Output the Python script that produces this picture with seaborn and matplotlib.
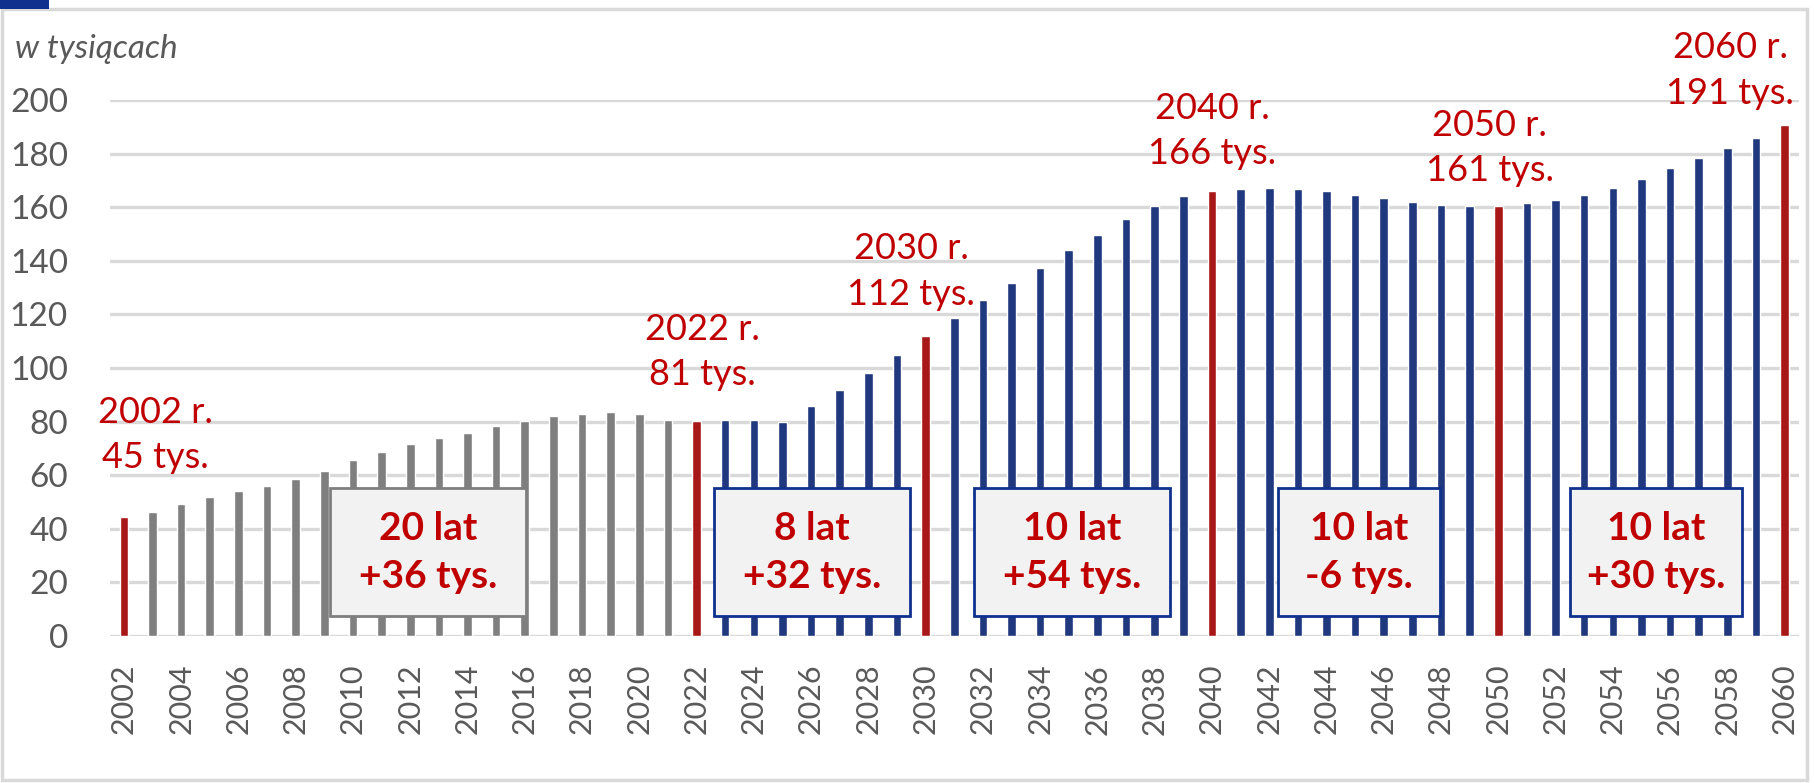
import numpy as np
import pandas as pd
import matplotlib
matplotlib.use("Agg")
import matplotlib.pyplot as plt
from matplotlib.patches import Rectangle
import seaborn as sns

# values (thousands)
years = list(range(2002, 2061))
values = [
    44.5, 46.4, 49.1, 51.8, 54.0, 56.1, 58.7, 61.4, 65.6, 68.8,
    71.6, 73.7, 75.8, 78.4, 80.1, 82.2, 82.7, 83.7, 82.7, 80.5,
    80.3, 80.5, 80.5, 80.0, 85.8, 91.7, 98.0, 104.9, 111.9, 118.8,
    125.3, 131.7, 137.4, 143.9, 149.7, 155.5, 160.4, 164.1, 166.2, 166.7,
    167.3, 166.7, 166.2, 164.6, 163.5, 162.0, 161.0, 160.4, 160.4, 161.5,
    162.5, 164.6, 167.3, 170.4, 174.8, 178.5, 182.2, 185.9, 190.6,
]
highlight_years = [2002, 2022, 2030, 2040, 2050, 2060]
last_observed_year = 2021

label_texts = ["2002 r.\n45 tys.", "2022 r.\n81 tys.", "2030 r.\n112 tys.",
               "2040 r.\n166 tys.", "2050 r.\n161 tys.", "2060 r.\n191 tys."]
label_heights = [75, 106, 136, 188.5, 182, 211]
label_shift = [1.1, 0.2, -0.5, 0.0, -0.3, -1.9]

box_texts = ["20 lat\n+36 tys.", "8 lat\n+32 tys.", "10 lat\n+54 tys.",
             "10 lat\n-6 tys.", "10 lat\n+30 tys."]
box_spans = [(7.2, 14.05), (20.6, 27.45), (29.7, 36.55), (40.3, 45.95), (50.5, 56.5)]
box_edges = ["#7F7F7F", "#10318E", "#10318E", "#10318E", "#10318E"]

RED = "#C00000"
GRAY = "#7F7F7F"
BLUE = "#10318E"
TXT = "#595959"

df = pd.DataFrame({"year": years, "value": values})
df["group"] = np.where(df["year"].isin(highlight_years), "key",
                       np.where(df["year"] <= last_observed_year, "past", "proj"))

sns.set_style("white")
plt.rcParams["font.family"] = ["Lato", "DejaVu Sans"]

fig = plt.figure(figsize=(18.14, 7.83), dpi=100)
ax = fig.add_axes([0.0604, 0.1877, 0.9313, 0.6846])

sns.barplot(data=df, x="year", y="value", hue="group",
            palette={"key": RED, "past": GRAY, "proj": BLUE},
            dodge=False, width=0.3, legend=False, ax=ax, zorder=2)

ax.set_xlim(-0.5, len(years) - 0.5)
ax.set_ylim(0, 200)
ax.set_yticks(np.arange(0, 201, 20))
ax.yaxis.grid(True, color="#D9D9D9", lw=2.4)
ax.set_axisbelow(True)
for s in ax.spines.values():
    s.set_visible(False)

ax.set_xticks(range(0, len(years), 2))
ax.set_xticklabels([str(y) for y in years[::2]], rotation=90)
ax.tick_params(axis="x", length=0, pad=20, labelsize=22, labelcolor=TXT)
ax.tick_params(axis="y", length=0, pad=30, labelsize=24, labelcolor=TXT)
ax.set_xlabel("")
ax.set_ylabel("")

# red data labels for key years
for yr, txt, h, dx in zip(highlight_years, label_texts, label_heights, label_shift):
    ax.text(years.index(yr) + dx, h, txt, ha="center", va="center",
            color=RED, fontsize=26, linespacing=1.45, clip_on=False, zorder=5)

# interval boxes
for (x0, x1), txt, ec in zip(box_spans, box_texts, box_edges):
    ax.add_patch(Rectangle((x0, 7.3), x1 - x0, 48, facecolor="#F2F2F2",
                           edgecolor=ec, lw=2, zorder=4))
    ax.text((x0 + x1) / 2, 31.3, txt, ha="center", va="center", color=RED,
            fontsize=28, fontweight="bold", linespacing=1.45, zorder=5)

fig.text(0.008, 0.937, "w tysiącach", fontsize=24, style="italic",
         color=TXT, ha="left", va="center")

# outer frame and small dark tab in the corner
fig.patches.append(Rectangle((0.001, 0.004), 0.995, 0.984, transform=fig.transFigure,
                             fill=False, edgecolor="#D9D9D9", lw=2.5))
fig.patches.append(Rectangle((0.0, 0.988), 0.027, 0.012, transform=fig.transFigure,
                             facecolor="#10318E", edgecolor="none"))

fig.savefig("out.png", dpi=100)
